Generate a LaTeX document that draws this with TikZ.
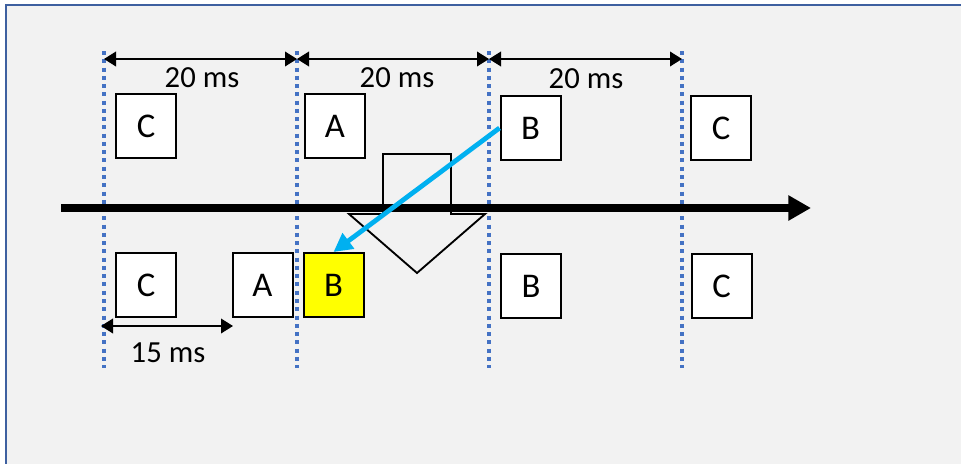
\documentclass[tikz,border=0pt]{standalone}
\usepackage{fontspec}
\setmainfont{Carlito}
\usetikzlibrary{arrows.meta}
\definecolor{bg}{RGB}{242,242,242}
\definecolor{frame}{RGB}{62,96,160}
\definecolor{dotblue}{RGB}{68,114,196}
\definecolor{cyanarrow}{RGB}{0,176,240}
\definecolor{hl}{RGB}{255,255,0}
\begin{document}
\begin{tikzpicture}[x=0.75pt,y=-0.75pt,
  pkt/.style={draw=black,line width=1.5pt,fill=white,minimum width=45pt,minimum height=48pt,inner sep=0pt,font=\fontsize{26}{28}\selectfont},
  lbl/.style={inner sep=0pt,font=\fontsize{23}{25}\selectfont},
  grid/.style={draw=dotblue,line width=2.4pt,dash pattern=on 3pt off 3.2pt},
  dim/.style={line width=1.2pt,{Triangle[length=9pt,width=11pt]}-{Triangle[length=9pt,width=11pt]}},
  axis/.style={line width=6pt,-{Triangle[length=17pt,width=18pt]}},
  move/.style={draw=cyanarrow,line width=3.6pt,-{Triangle[length=14pt,width=14pt]}},
  blockarrow/.style={draw=black,line width=1.4pt,line join=miter}]
\useasboundingbox (0,0) rectangle (961,464);
\clip (0,0) rectangle (961,464);
\fill[white] (0,0) rectangle (961,464);
\draw[frame,line width=1.6pt,fill=bg] (6,5) rectangle (975,480);

% dotted time grid
\foreach \n/\x in {1/104,2/297,3/489,4/682}{
  \coordinate (t\n) at (\x,51);
  \coordinate (b\n) at (\x,368);
  \coordinate (d\n) at (\x,59);
  \draw[grid] (t\n) -- (b\n);
}

% 20 ms dimensions
\draw[dim] (d1) -- (d2);
\draw[dim] (d2) -- (d3);
\draw[dim] (d3) -- (d4);
\node[lbl] (l1) at (202,78) {20 ms};
\node[lbl] (l2) at (397,78) {20 ms};
\node[lbl] (l3) at (586,79) {20 ms};

% top packets
\node[pkt] (tc1) at (146,126) {C};
\node[pkt] (ta) at (335,126) {A};
\node[pkt] (tb) at (530.5,128) {B};
\node[pkt] (tc2) at (721,128) {C};

% block arrow
\draw[blockarrow] (383,154) -- (451,154) -- (451,214) -- (485,214) -- (417,273) -- (349,214) -- (383,214) -- cycle;

% time axis
\coordinate (ax0) at (61,208);
\coordinate (ax1) at (811,208);
\draw[axis] (ax0) -- (ax1);

% bottom packets
\node[pkt] (bc1) at (146,285) {C};
\node[pkt] (ba) at (262.5,285) {A};
\node[pkt,fill=hl] (bb) at (333.5,285) {B};
\node[pkt] (bb2) at (531,286) {B};
\node[pkt] (bc2) at (721.5,286) {C};

% 15 ms dimension
\coordinate (f0) at (101,326);
\coordinate (f1) at (233,326);
\draw[dim] (f0) -- (f1);
\node[lbl] (l4) at (168,353) {15 ms};

% move arrow
\draw[move] (tb.west) -- (bb.north);
\end{tikzpicture}
\end{document}
